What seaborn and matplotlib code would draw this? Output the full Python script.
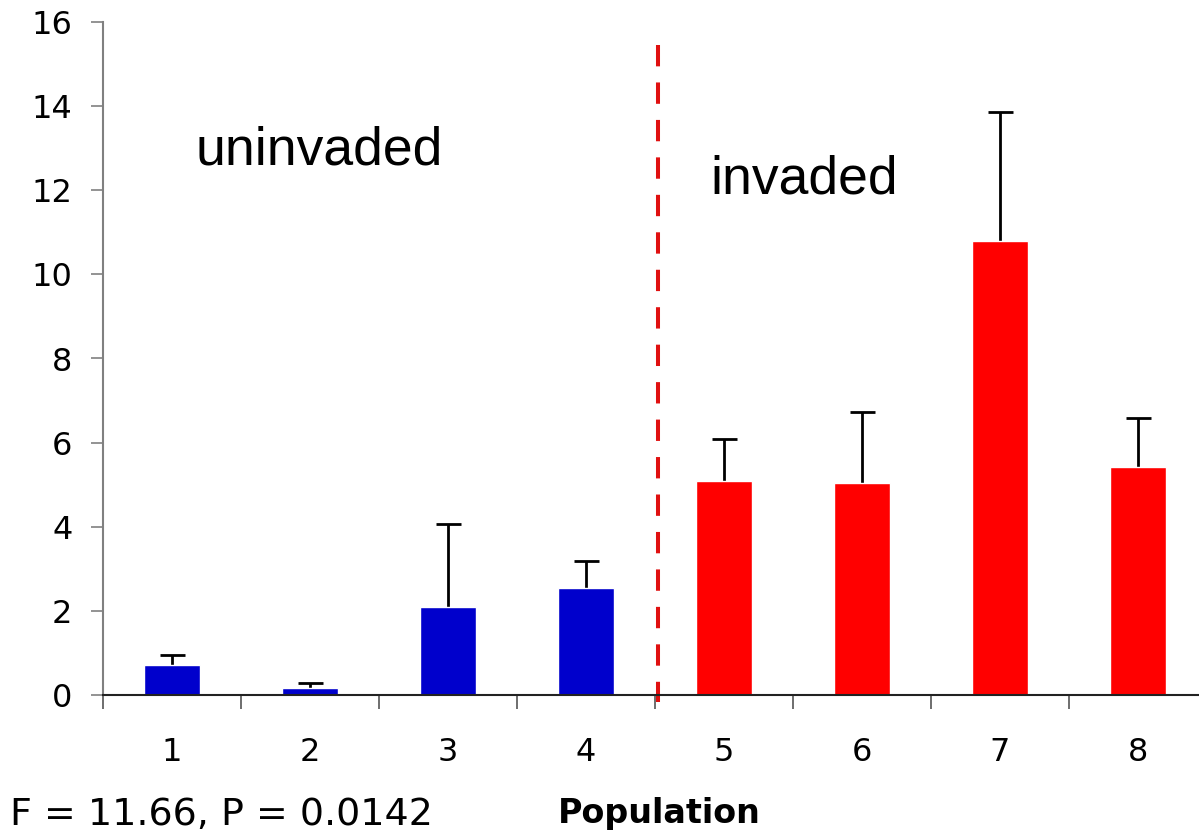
import numpy as np
import pandas as pd
import seaborn as sns
import matplotlib.pyplot as plt

populations = ["1", "2", "3", "4", "5", "6", "7", "8"]
status = ["uninvaded"] * 4 + ["invaded"] * 4
means = [0.71, 0.17, 2.09, 2.54, 5.09, 5.04, 10.79, 5.42]
errors = [0.25, 0.11, 1.98, 0.65, 1.00, 1.69, 3.07, 1.17]
y_ticks = [0, 2, 4, 6, 8, 10, 12, 14, 16]

df = pd.DataFrame({"Population": populations, "status": status, "mean": means})

sns.set_style("white")
plt.rcParams["font.family"] = ["DejaVu Sans"]
plt.rcParams["text.color"] = "black"
plt.rcParams["xtick.color"] = "black"
plt.rcParams["ytick.color"] = "black"

fig = plt.figure(figsize=(11.99, 8.38), dpi=100)
ax = fig.add_axes([103 / 1199, 143 / 838, 1104 / 1199, 673 / 838])

sns.barplot(
    data=df,
    x="Population",
    y="mean",
    hue="status",
    palette={"uninvaded": "#0000CC", "invaded": "#FF0000"},
    saturation=1,
    width=0.4,
    dodge=False,
    legend=False,
    errorbar=None,
    ax=ax,
)
for p in ax.patches:
    p.set_zorder(2)

# upper error bars only, drawn behind the bars
_, caps, _ = ax.errorbar(
    np.arange(len(populations)),
    means,
    yerr=[np.zeros(len(errors)), errors],
    fmt="none",
    ecolor="black",
    elinewidth=2,
    capsize=9,
    capthick=2,
    zorder=1,
)
caps[0].set_visible(False)

ax.set_xlim(-0.5, 7.5)
ax.set_ylim(0, 16)
ax.set_yticks(y_ticks)
ax.set_yticklabels([str(t) for t in y_ticks], fontsize=23)
ax.tick_params(axis="y", length=9, width=1.2, color="#808080", labelcolor="black",
               pad=13, left=True)

# boundary ticks below, labels centred under bars
ax.set_xticks(np.arange(-0.5, 8, 1))
ax.set_xticklabels([])
ax.set_xticks(np.arange(len(populations)), minor=True)
ax.set_xticklabels(populations, minor=True, fontsize=23)
ax.tick_params(axis="x", which="major", length=10, width=1.2, color="#555555", bottom=True)
ax.tick_params(axis="x", which="minor", length=0, pad=30, labelcolor="black")

for side in ["top", "right"]:
    ax.spines[side].set_visible(False)
ax.spines["left"].set_color("#808080")
ax.spines["left"].set_linewidth(1.5)
ax.spines["bottom"].set_color("#222222")
ax.spines["bottom"].set_linewidth(1.5)
ax.spines["bottom"].set_zorder(3)
ax.set_xlabel("")
ax.set_ylabel("")

ax.plot([3.52, 3.52], [15.45, -0.17], color="#E01010", lw=2.9,
        dashes=(5.3, 4), clip_on=False, zorder=3)

ax.text(0.17, 12.95, "uninvaded", fontsize=38.5, family="Liberation Sans", va="center")
ax.text(3.9, 12.25, "invaded", fontsize=38.5, family="Liberation Sans", va="center")

fig.text(10 / 1199, 1 - 815 / 838, "F = 11.66, P = 0.0142", fontsize=27.4, va="center")
fig.text(659 / 1199, 1 - 813 / 838, "Population", fontsize=24, fontweight="bold",
         ha="center", va="center")

plt.savefig("out.png", dpi=100)
